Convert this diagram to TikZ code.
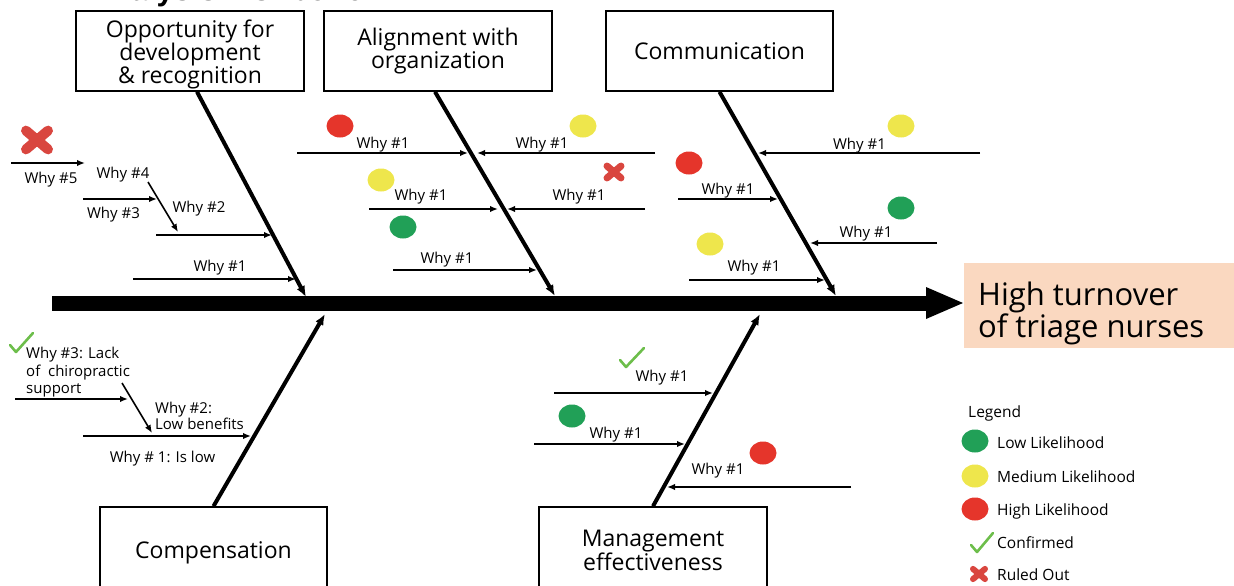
\documentclass[tikz,border=0pt]{standalone}
\usepackage{fontspec}
\setmainfont{Open Sans}
\newfontfamily\titlefam{Liberation Sans}
\usetikzlibrary{arrows.meta}
\definecolor{dred}{HTML}{E5352B}
\definecolor{dyel}{HTML}{EEE64C}
\definecolor{dgrn}{HTML}{21A057}
\definecolor{chk}{HTML}{6DBE4B}
\definecolor{xred}{HTML}{D9463F}
\definecolor{peach}{HTML}{FAD8C0}
\newcommand\fdot[3]{\fill[#1] (#2,#3) ellipse [x radius=13.5, y radius=11.5];}
\newcommand\xmk[4]{\draw[xred, line width=#4, line cap=round] (#1-#3,#2-#3*0.85) -- (#1+#3,#2+#3*0.85) (#1-#3,#2+#3*0.85) -- (#1+#3,#2-#3*0.85);}
\newcommand\chkmk[6]{\draw[chk, line width=2.6, line cap=round, line join=round] (#1,#2) -- (#3,#4) -- (#5,#6);}
\tikzset{
  cause/.style={draw, line width=1.6, fill=white, minimum width=228, minimum height=80,
    inner sep=0, align=center, font=\fontsize{23}{23}\selectfont},
  bone/.style={line width=4, -{Latex[length=11,width=9]}},
  sub/.style={line width=1.6, -{Latex[length=8,width=6.5]}},
  why/.style={font=\fontsize{15}{17}\selectfont, anchor=base, inner sep=0},
  whyml/.style={font=\fontsize{15}{17.5}\selectfont, anchor=north west, inner sep=0, align=left},
  leg/.style={font=\fontsize{15.5}{17}\selectfont, anchor=base west, inner sep=0},
  effect/.style={fill=peach, inner sep=0},
  efftext/.style={font=\fontsize{31}{30}\selectfont, anchor=north west, inner sep=0, align=left},
}
\begin{document}
\begin{tikzpicture}[x=1pt,y=-1pt]
\useasboundingbox (0,0) rectangle (1234,586);
\clip (0,0) rectangle (1234,586);

% title (cut off at top)
\node[anchor=base west, inner sep=0, font=\titlefam\bfseries\fontsize{31}{31}\selectfont] (title) at (52,1) {4. Analysis Fishbone};

% spine
\coordinate (tail) at (52,303);
\coordinate (head) at (963,303);
\draw[line width=15] (tail) -- (928,303);
\fill (926,287) -- (head) -- (926,319) -- cycle;

% effect
\node[effect, anchor=north west, minimum width=290, minimum height=85] (effect) at (964,263) {};
\node[efftext] (efftxt) at (978,282) {High turnover\\of triage nurses};

% cause boxes
\node[cause] (b1) at (190,51) {\rule{0pt}{25pt}Opportunity for\\development\\\& recognition};
\node[cause] (b2) at (438,51) {Alignment with\\organization};
\node[cause, minimum width=227] (b3) at (719.5,51) {Communication};
\node[cause, minimum width=227, minimum height=86] (b4) at (213.5,550) {\rule{0pt}{22pt}Compensation};
\node[cause, minimum height=86] (b5) at (653,550) {Management\\effectiveness};

% bones
\coordinate (j1) at (306,297);
\coordinate (j2) at (555,296);
\coordinate (j3) at (836,296);
\coordinate (j4) at (325,314);
\coordinate (j5) at (760,314);
\draw[bone] ([xshift=7]b1.south) -- (j1);
\draw[bone] ([xshift=-3]b2.south) -- (j2);
\draw[bone] (b3.south) -- (j3);
\draw[bone] (b4.north) -- (j4);
\draw[bone] (b5.north) -- (j5);

% --- bone 1 sub causes
\draw[sub] (133,279) -- (296,279);
\draw[sub] (156,235) -- (272,235);
\draw[sub] (148,182) -- (178,232);
\draw[sub] (83,199) -- (157,199);
\draw[sub] (11,163) -- (85,163);
\node[why] (l1) at (220,271) {Why \#1};
\node[why] (l2) at (199,212) {Why \#2};
\node[why] (l3) at (113.5,218) {Why \#3};
\node[why] (l4) at (123,178) {Why \#4};
\node[why] (l5) at (51,183) {Why \#5};
\xmk{37}{140}{11}{10}

% --- bone 2 sub causes
\draw[sub] (297,153) -- (468,153);
\draw[sub] (655,153) -- (477,153);
\draw[sub] (369,209) -- (498,209);
\draw[sub] (645,209) -- (507,209);
\draw[sub] (393,270) -- (537,270);
\node[why] (l6) at (383,148) {Why \#1};
\node[why] (l7) at (542,148) {Why \#1};
\node[why] (l8) at (421,200) {Why \#1};
\node[why] (l9) at (579,200) {Why \#1};
\node[why] (l10) at (447,263) {Why \#1};
\fdot{dred}{340}{126}
\fdot{dyel}{583}{126}
\fdot{dyel}{381}{180}
\fdot{dgrn}{403}{227}
\xmk{614}{172}{7}{7}

% --- bone 3 sub causes
\draw[sub] (980,153) -- (758,153);
\draw[sub] (678,199) -- (778,199);
\draw[sub] (937,243) -- (810,243);
\draw[sub] (689,280) -- (825,280);
\node[why] (l11) at (859.5,149) {Why \#1};
\node[why] (l12) at (728,194) {Why \#1};
\node[why] (l13) at (866,237) {Why \#1};
\node[why] (l14) at (754,271) {Why \#1};
\fdot{dyel}{901}{126}
\fdot{dred}{689}{163}
\fdot{dgrn}{901}{208}
\fdot{dyel}{710}{244}

% --- bone 4 sub causes
\draw[sub] (15,399) -- (128,399);
\draw[sub] (122,383) -- (152,433);
\draw[sub] (83,436) -- (251,436);
\node[whyml] (l15) at (26,347) {Why \#3: Lack\\of~ chiropractic\\support};
\node[whyml, font=\fontsize{15}{15.5}\selectfont] (l16) at (155,402) {Why \#2:\\Low benefits};
\node[why] (l17) at (162.5,462) {Why \# 1: Is low};
\chkmk{10}{345}{16}{352}{33}{333}

% --- bone 5 sub causes
\draw[sub] (554,393) -- (713,393);
\draw[sub] (534,444) -- (685,444);
\draw[sub] (851,487) -- (667,487);
\node[why] (l18) at (662,381) {Why \#1};
\node[why] (l19) at (616,438) {Why \#1};
\node[why] (l20) at (718,474) {Why \#1};
\chkmk{620}{360}{626}{367}{644}{348}
\fdot{dgrn}{572}{416}
\fdot{dred}{763}{453}

% --- legend
\node[leg] (lg0) at (968,417) {Legend};
\fdot{dgrn}{975}{441}
\node[leg] (lg1) at (997,448) {Low Likelihood};
\fdot{dyel}{975}{476}
\node[leg] (lg2) at (997,482) {Medium Likelihood};
\fdot{dred}{975}{509}
\node[leg] (lg3) at (997,515) {High Likelihood};
\chkmk{971}{545}{977}{552}{993}{533}
\node[leg] (lg4) at (997,548) {Confirmed};
\xmk{979}{574}{6}{6}
\node[leg] (lg5) at (997,580) {Ruled Out};
\end{tikzpicture}
\end{document}
